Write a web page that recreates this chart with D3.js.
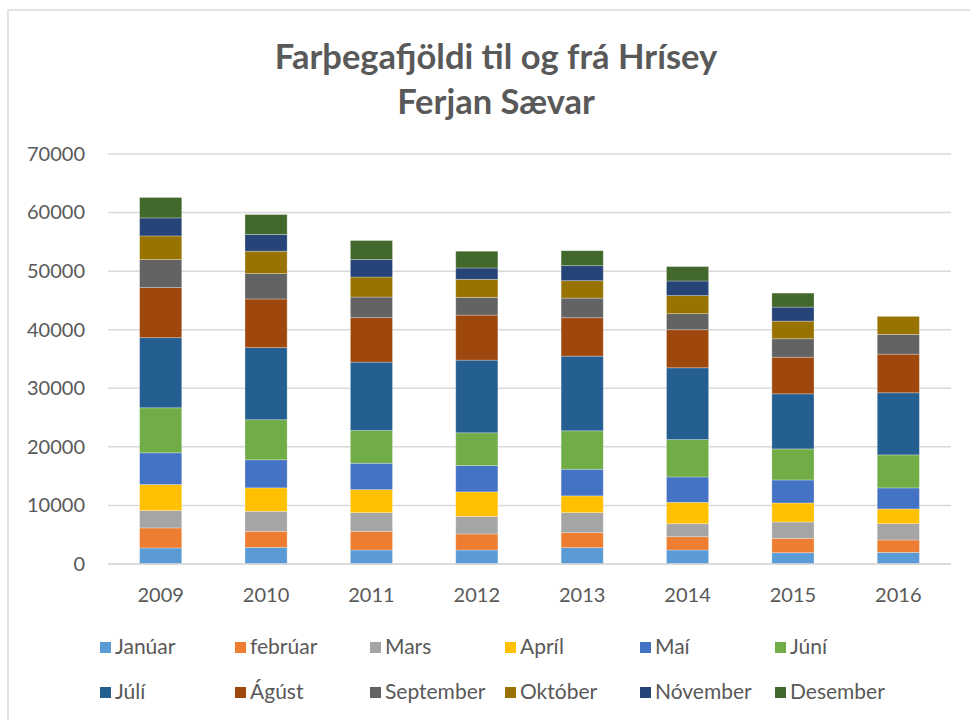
<!DOCTYPE html>
<html>
<head>
<meta charset="utf-8">
<script src="https://cdn.jsdelivr.net/npm/d3@7"></script>
<style>
  body { margin: 0; background: #fff; }
  text { font-family: Lato, "Open Sans", sans-serif; fill: #595959; }
</style>
</head>
<body>
<svg id="canvas" width="970" height="720"></svg>
<script>
var years = ["2009", "2010", "2011", "2012", "2013", "2014", "2015", "2016"];
var months = ["Janúar", "febrúar", "Mars", "Apríl", "Maí", "Júní", "Júlí", "Ágúst", "September", "Október", "Nóvember", "Desember"];
var colors = ["#5B9BD5", "#ED7D31", "#A5A5A5", "#FFC000", "#4472C4", "#70AD47", "#255E91", "#9E480E", "#636363", "#997300", "#264478", "#43682B"];
var yTicks = [0, 10000, 20000, 30000, 40000, 50000, 60000, 70000];

// farþegar per mánuð, 2009-2016
var januar    = [2740, 2840, 2390, 2390, 2790, 2390, 1930, 1980];
var februar   = [3420, 2740, 3180, 2740, 2560, 2270, 2440, 2120];
var mars      = [2960, 3420, 3200, 3010, 3420, 2220, 2800, 2790];
var april     = [4440, 4000, 3930, 4170, 2860, 3640, 3250, 2510];
var mai       = [5420, 4790, 4500, 4500, 4550, 4340, 3930, 3590];
var juni      = [7690, 6840, 5590, 5590, 6560, 6380, 5300, 5640];
var juli      = [11970, 12310, 11680, 12410, 12750, 12260, 9400, 10600];
var agust     = [8550, 8310, 7590, 7690, 6560, 6500, 6260, 6600];
var september = [4790, 4340, 3520, 3030, 3350, 2740, 3150, 3370];
var oktober   = [4030, 3810, 3420, 3080, 2970, 3080, 3010, 3080];
var november  = [3080, 2850, 2980, 1930, 2560, 2500, 2390, 0];
var desember  = [3490, 3420, 3250, 2860, 2560, 2460, 2390, 0];

var series = [januar, februar, mars, april, mai, juni, juli, agust, september, oktober, november, desember];

var table = years.map(function(y, i) {
	var row = { year: y };
	months.forEach(function(m, j) { row[m] = series[j][i]; });
	return row;
});

var svg = d3.select("#canvas");

// chart frame
svg.append("rect")
	.attr("x", 8).attr("y", 10)
	.attr("width", 1000).attr("height", 800)
	.attr("fill", "#fff")
	.attr("stroke", "#d9d9d9")
	.attr("stroke-width", 1.5);

var x = d3.scaleBand()
	.domain(years)
	.range([108, 951])
	.paddingInner(0.6)
	.paddingOuter(0.3);

var y = d3.scaleLinear()
	.domain([0, 70000])
	.range([564, 154]);

// gridlines
svg.append("g")
	.selectAll("line")
	.data(yTicks)
	.enter().append("line")
	.attr("x1", 108).attr("x2", 951)
	.attr("y1", function(d) { return y(d); })
	.attr("y2", function(d) { return y(d); })
	.attr("stroke", "#d9d9d9")
	.attr("stroke-width", 1.5);

// y axis labels
var yAxis = d3.axisLeft(y).tickValues(yTicks).tickSize(0).tickPadding(0).tickFormat(d3.format("d"));
var ya = svg.append("g")
	.attr("transform", "translate(85,0)")
	.call(yAxis);
ya.select(".domain").remove();
ya.selectAll("text")
	.style("font-size", "20px")
	.attr("fill", "#595959");

// stacked bars
var stack = d3.stack().keys(months);
var layers = stack(table);

svg.append("g")
	.selectAll("g")
	.data(layers)
	.enter().append("g")
	.attr("fill", function(d, i) { return colors[i]; })
	.selectAll("rect")
	.data(function(d) { return d; })
	.enter().append("rect")
	.attr("x", function(d) { return x(d.data.year); })
	.attr("width", x.bandwidth())
	.attr("y", function(d) { return y(d[1]); })
	.attr("height", function(d) { return y(d[0]) - y(d[1]); })
	.attr("stroke", "#ffffff")
	.attr("stroke-opacity", function(d) { return d[1] > d[0] ? 0.35 : 0; })
	.attr("stroke-width", 0.8);

// x axis
var xAxis = d3.axisBottom(x).tickSize(0).tickPadding(0);
var xa = svg.append("g")
	.attr("transform", "translate(0,564)")
	.call(xAxis);
xa.select(".domain").remove();
xa.selectAll("text")
	.attr("y", 38)
	.attr("dy", 0)
	.style("font-size", "20px")
	.attr("fill", "#595959");

svg.append("line")
	.attr("x1", 108).attr("x2", 951)
	.attr("y1", 564).attr("y2", 564)
	.attr("stroke", "#d9d9d9")
	.attr("stroke-width", 1.5);

// title
svg.append("text")
	.attr("x", 496).attr("y", 69)
	.attr("text-anchor", "middle")
	.style("font-size", "34.5px")
	.style("font-weight", "bold")
	.text("Farþegafjöldi til og frá Hrísey");
svg.append("text")
	.attr("x", 496).attr("y", 114)
	.attr("text-anchor", "middle")
	.style("font-size", "34.5px")
	.style("font-weight", "bold")
	.text("Ferjan Sævar");

// legend
var legend = svg.append("g")
	.selectAll("g")
	.data(months)
	.enter().append("g")
	.attr("transform", function(d, i) {
		return "translate(" + (100 + (i % 6) * 135) + "," + (647 + Math.floor(i / 6) * 45) + ")";
	});
legend.append("rect")
	.attr("x", 0).attr("y", -5)
	.attr("width", 11).attr("height", 11)
	.attr("fill", function(d, i) { return colors[i]; });
legend.append("text")
	.attr("x", 15).attr("y", 7)
	.style("font-size", "21px")
	.text(function(d) { return d; });
</script>
</body>
</html>
